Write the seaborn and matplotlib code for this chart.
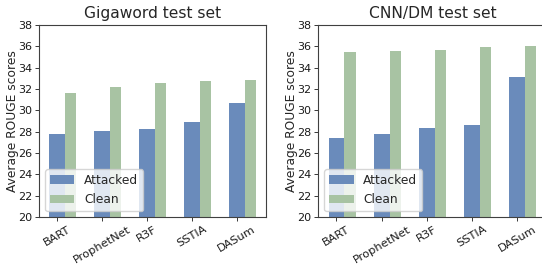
import numpy as np
import matplotlib
matplotlib.use('Agg')
import matplotlib.pyplot as plt
import seaborn as sns

models = ['BART', 'ProphetNet', 'R3F', 'SSTIA', 'DASum']
giga_attacked = [27.8, 28.05, 28.25, 28.9, 30.7]
giga_clean = [31.6, 32.15, 32.55, 32.75, 32.85]
cnn_attacked = [27.4, 27.8, 28.35, 28.6, 33.1]
cnn_clean = [35.45, 35.55, 35.65, 35.95, 36.05]
titles = ['Gigaword test set', 'CNN/DM test set']

sns.set_style('ticks')
plt.rcParams['font.family'] = ['DejaVu Sans']

blue = '#6a8bbb'
green = '#a8c3a3'

fig = plt.figure(figsize=(5.42, 2.68), dpi=100)
ax1 = fig.add_axes([0.072, 0.19, 0.419, 0.717])
ax2 = fig.add_axes([0.587, 0.19, 0.422, 0.717])

pos = np.arange(len(models))
for ax, attacked, clean, title in [(ax1, giga_attacked, giga_clean, titles[0]),
                                   (ax2, cnn_attacked, cnn_clean, titles[1])]:
    sns.barplot(x=pos, y=attacked, native_scale=True, width=0.35, color=blue,
                saturation=1, label='Attacked', ax=ax, zorder=2,
                linewidth=0, edgecolor='none')
    sns.barplot(x=pos + 0.3, y=clean, native_scale=True, width=0.25, color=green,
                saturation=1, label='Clean', ax=ax, zorder=1,
                linewidth=0, edgecolor='none')
    ax.set_xlim(-0.405, 4.655)
    ax.set_ylim(20, 38)
    ax.set_yticks(range(20, 39, 2))
    ax.set_xticks(pos)
    ax.set_xticklabels(models, rotation=30, fontsize=8.2, color='.1')
    ax.tick_params(axis='y', labelsize=8, labelcolor='.1')
    ax.tick_params(length=3, width=0.64, color='.15', pad=2)
    for sp in ax.spines.values():
        sp.set_linewidth(0.8)
        sp.set_color('.25')
    ax.set_ylabel('Average ROUGE scores', fontsize=8.8)
    ax.yaxis.set_label_coords(-0.09, 0.5)
    ax.set_title(title, fontsize=11.2, pad=5)
    ax.legend(loc='lower left', fontsize=8.8)

# the reference is cropped on the right, so the second panel has no right edge
ax2.spines['right'].set_visible(False)

fig.savefig('out.png', dpi=100)
